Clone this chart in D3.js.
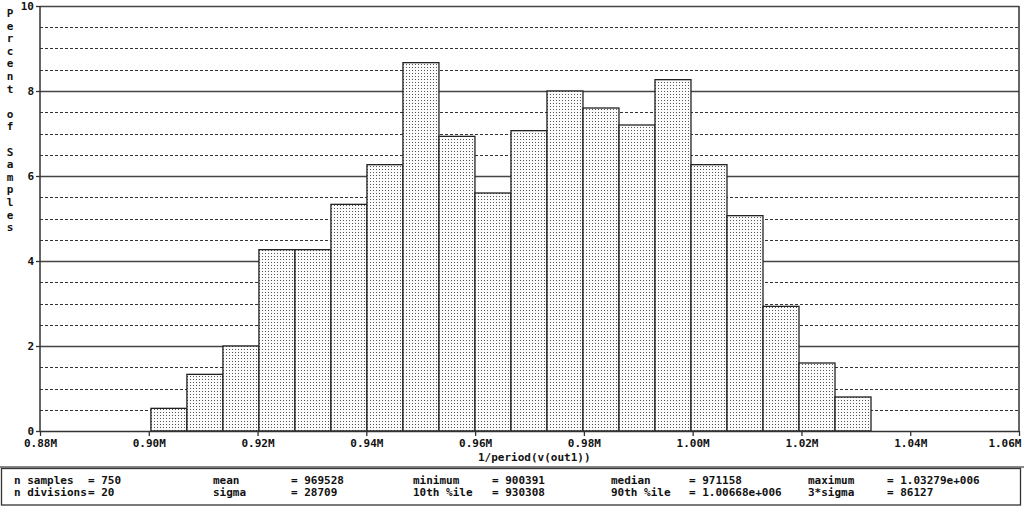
<!DOCTYPE html>
<html>
<head>
<meta charset="utf-8">
<script src="https://cdn.jsdelivr.net/npm/d3@7"></script>
<style>
  html, body { margin: 0; padding: 0; background: #fff; }
  svg { display: block; }
  text { font-family: "DejaVu Sans Mono", "Liberation Mono", monospace; font-weight: bold; font-size: 11px; fill: #111; }
</style>
</head>
<body>
<svg id="chart" width="1024" height="508"></svg>
<script>
// ---- data ----
const binPercents = [0.533, 1.333, 2.0, 4.267, 4.267, 5.333, 6.267, 8.667, 6.933, 5.6,
                     7.067, 8.0, 7.6, 7.2, 8.267, 6.267, 5.067, 2.933, 1.6, 0.8];
const xTicks = [880000, 900000, 920000, 940000, 960000, 980000, 1000000, 1020000, 1040000, 1060000];
const xTickLabels = ["0.88M", "0.90M", "0.92M", "0.94M", "0.96M", "0.98M", "1.00M", "1.02M", "1.04M", "1.06M"];
const yMajorTicks = [0, 2, 4, 6, 8, 10];
const yMinorTicks = [0.5, 1, 1.5, 2.5, 3, 3.5, 4.5, 5, 5.5, 6.5, 7, 7.5, 8.5, 9, 9.5];
const sampleMin = 900391;
const sampleMax = 1032790;
const xTitle = "1/period(v(out1))";
const yTitle = "Percent of Samples";
const statsRow1 = [["n samples", "= 750"], ["mean", "= 969528"], ["minimum", "= 900391"], ["median", "= 971158"], ["maximum", "= 1.03279e+006"]];
const statsRow2 = [["n divisions", "= 20"], ["sigma", "= 28709"], ["10th %ile", "= 930308"], ["90th %ile", "= 1.00668e+006"], ["3*sigma", "= 86127"]];

// ---- layout ----
const svg = d3.select("#chart");
const L = 40, R = 1019, T = 6, B = 431;
const x = d3.scaleLinear().domain([880000, 1060000]).range([L, R]);
const y = d3.scaleLinear().domain([0, 10]).range([B, T]);

const defs = svg.append("defs");
const pat = defs.append("pattern").attr("id", "dots")
  .attr("patternUnits", "userSpaceOnUse").attr("width", 3).attr("height", 3);
pat.append("rect").attr("width", 3).attr("height", 3).attr("fill", "#fbfbfb");
pat.append("rect").attr("x", 1).attr("y", 1).attr("width", 1).attr("height", 1).attr("fill", "#555");

// grid lines
svg.append("g").selectAll("line").data(yMinorTicks).join("line")
  .attr("x1", L).attr("x2", R).attr("y1", d => Math.round(y(d)) + 0.5).attr("y2", d => Math.round(y(d)) + 0.5)
  .attr("stroke", "#333").attr("stroke-width", 1).attr("stroke-dasharray", "3,2");
svg.append("g").selectAll("line").data(yMajorTicks.filter(d => d > 0)).join("line")
  .attr("x1", L).attr("x2", R).attr("y1", d => Math.round(y(d)) + 0.5).attr("y2", d => Math.round(y(d)) + 0.5)
  .attr("stroke", "#444").attr("stroke-width", 1.5);

// bars
const binW = (sampleMax - sampleMin) / binPercents.length;
svg.append("g").selectAll("rect").data(binPercents).join("rect")
  .attr("x", (d, i) => x(sampleMin + i * binW))
  .attr("width", (d, i) => x(sampleMin + (i + 1) * binW) - x(sampleMin + i * binW))
  .attr("y", d => y(d))
  .attr("height", d => y(0) - y(d))
  .attr("fill", "url(#dots)")
  .attr("stroke", "#222").attr("stroke-width", 1.3);

// frame: left, right
svg.append("line").attr("x1", L).attr("x2", L).attr("y1", T).attr("y2", B).attr("stroke", "#333").attr("stroke-width", 1.5);
svg.append("line").attr("x1", R).attr("x2", R).attr("y1", T).attr("y2", B).attr("stroke", "#333").attr("stroke-width", 1.5);

// x axis
const xAxis = d3.axisBottom(x).tickValues(xTicks).tickFormat((d, i) => xTickLabels[i]).tickSize(5).tickSizeOuter(0).tickPadding(3);
const gx = svg.append("g").attr("transform", `translate(0,${B})`).call(xAxis);
gx.select(".domain").attr("stroke", "#333").attr("stroke-width", 1.5);
gx.selectAll(".tick line").attr("stroke", "#333").attr("stroke-width", 1.3);
gx.selectAll(".tick text").attr("font-size", 11).attr("font-family", null).attr("fill", "#111")
  .attr("text-anchor", (d, i) => i === xTicks.length - 1 ? "end" : "middle")
  .attr("dx", (d, i) => i === xTicks.length - 1 ? 2 : 0);

// y axis
const yAxis = d3.axisLeft(y).tickValues(yMajorTicks).tickFormat(d3.format("d")).tickSize(4).tickSizeOuter(0).tickPadding(2);
const gy = svg.append("g").attr("transform", `translate(${L},0)`).call(yAxis);
gy.select(".domain").remove();
gy.selectAll(".tick line").attr("stroke", "#333").attr("stroke-width", 1.3);
gy.selectAll(".tick text").attr("font-size", 11).attr("font-family", null).attr("fill", "#111");

// x title
svg.append("text").attr("x", 478).attr("y", 461).text(xTitle);

// y title (stacked letters)
svg.append("g").selectAll("text").data(yTitle.split("")).join("text")
  .attr("x", 10).attr("y", (d, i) => 17 + i * 12.6)
  .attr("text-anchor", "middle").text(d => d);

// stats box
svg.append("line").attr("x1", 0).attr("x2", 1024).attr("y1", 467).attr("y2", 467).attr("stroke", "#888").attr("stroke-width", 2);
svg.append("rect").attr("x", 1.5).attr("y", 468.5).attr("width", 1019).attr("height", 36.5)
  .attr("fill", "none").attr("stroke", "#333").attr("stroke-width", 1.3);
const colX = [[14, 88], [213, 291], [413, 492], [611, 689], [808, 887]];
[statsRow1, statsRow2].forEach((row, r) => {
  row.forEach((pair, c) => {
    svg.append("text").attr("x", colX[c][0]).attr("y", 484 + r * 12).attr("font-size", 10.4).text(pair[0]);
    svg.append("text").attr("x", colX[c][1]).attr("y", 484 + r * 12).attr("font-size", 10.4).text(pair[1]);
  });
});
</script>
</body>
</html>
